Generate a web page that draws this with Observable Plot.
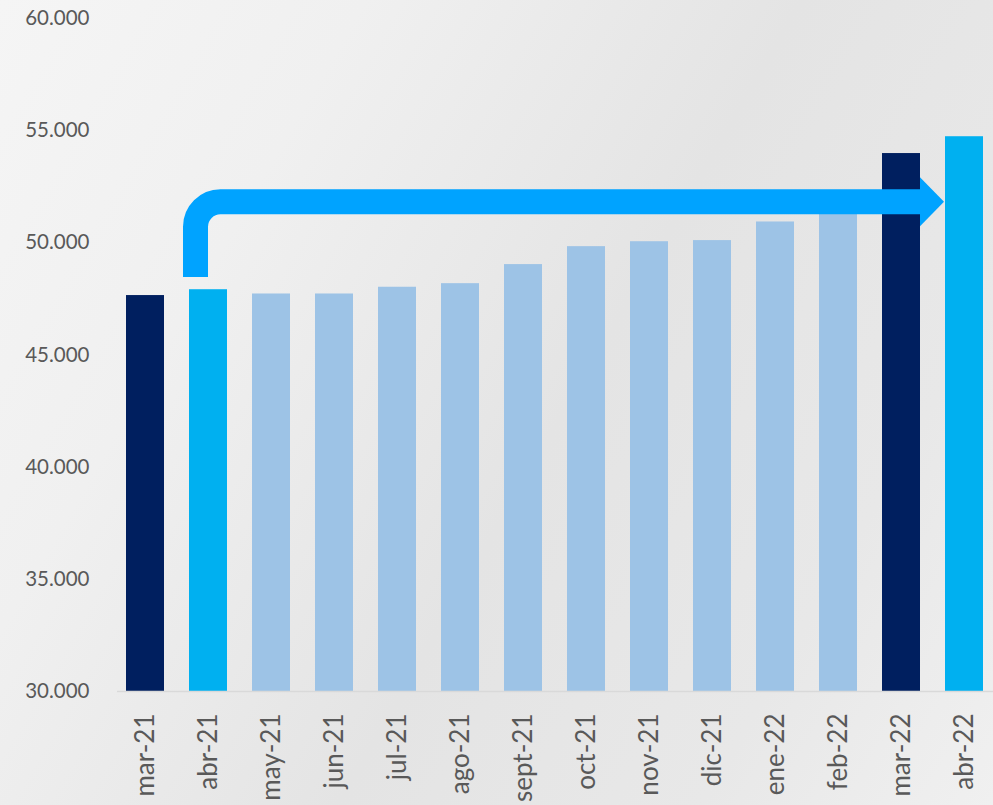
<!DOCTYPE html>
<html>
<head>
<meta charset="utf-8">
<script src="https://cdn.jsdelivr.net/npm/d3@7"></script>
<script src="https://cdn.jsdelivr.net/npm/@observablehq/plot@0.6"></script>
<style>
  html, body { margin: 0; padding: 0; }
  body {
    width: 993px; height: 805px; overflow: hidden;
    background: linear-gradient(120deg, #f5f5f5 0%, #f0f0f0 25%, #e4e4e4 55%, #e8e8e8 80%, #f0f0f0 100%);
  }
  #chart svg { display: block; background: transparent; }
</style>
</head>
<body>
<div id="chart"></div>
<script>
// ---- data ----
const months = ["mar-21","abr-21","may-21","jun-21","jul-21","ago-21","sept-21","oct-21","nov-21","dic-21","ene-22","feb-22","mar-22","abr-22"];
const values = [47650, 47910, 47720, 47720, 48020, 48180, 49030, 49830, 50050, 50100, 50930, 51500, 53980, 54730];
const groups = ["anterior","actual","intermedio","intermedio","intermedio","intermedio","intermedio","intermedio","intermedio","intermedio","intermedio","intermedio","anterior","actual"];
const yTicks = [30000, 35000, 40000, 45000, 50000, 55000, 60000];
// arrow annotation (from abr-21 up and across to abr-22)
const arrowFrom = "abr-21";
const arrowShaftEnd = "mar-22";
const arrowTo = "abr-22";
const arrowStartValue = 48460;
const arrowLevelValue = 51810;

const data = months.map((m, i) => ({month: m, value: values[i], group: groups[i]}));
const locale = d3.formatLocale({decimal: ",", thousands: ".", grouping: [3], currency: ["", ""]});
const fmt = locale.format(",.0f");

const plot = Plot.plot({
  width: 993,
  height: 805,
  marginLeft: 117,
  marginRight: 0,
  marginTop: 18,
  marginBottom: 114,
  style: {fontFamily: "Lato, sans-serif", fontSize: "20px", color: "#595959", background: "transparent", overflow: "hidden"},
  x: {domain: months, label: null, paddingInner: 0.39, paddingOuter: 0.11},
  y: {domain: [30000, 60000], label: null},
  color: {domain: ["anterior", "actual", "intermedio"], range: ["#001F5F", "#00B0F0", "#9DC3E6"]},
  marks: [
    Plot.axisY({ticks: yTicks, tickFormat: fmt, tickSize: 0, tickPadding: 28, fontSize: 20.5, fill: "#595959", label: null}),
    Plot.axisX({tickSize: 0, tickPadding: 22, tickRotate: -90, fontSize: 26, fill: "#595959", label: null}),
    Plot.barY(data, {x: "month", y1: 30000, y2: "value", fill: "group"}),
    Plot.ruleY([30000], {stroke: "#d9d9d9", strokeWidth: 1.5})
  ]
});

// arrow overlay, positioned through the plot's own scales
const sx = plot.scale("x"), sy = plot.scale("y");
const bw = sx.bandwidth;
const xv = sx.apply(arrowFrom) + 6.5;
const y0 = sy.apply(arrowStartValue);
const yh = sy.apply(arrowLevelValue);
const r = 25;
const xEnd = sx.apply(arrowShaftEnd) + bw;
const xTip = sx.apply(arrowTo) - 1;
const g = d3.select(plot).append("g").attr("aria-label", "arrow");
g.append("path")
  .attr("d", `M${xv},${y0} L${xv},${yh + r} A${r},${r} 0 0 1 ${xv + r},${yh} L${xEnd},${yh}`)
  .attr("fill", "none").attr("stroke", "#00A3FF").attr("stroke-width", 25);
g.append("path")
  .attr("d", `M${xEnd},${yh - 24.5} L${xTip},${yh} L${xEnd},${yh + 24.5} Z`)
  .attr("fill", "#00A3FF");

document.getElementById("chart").appendChild(plot);
</script>
</body>
</html>
